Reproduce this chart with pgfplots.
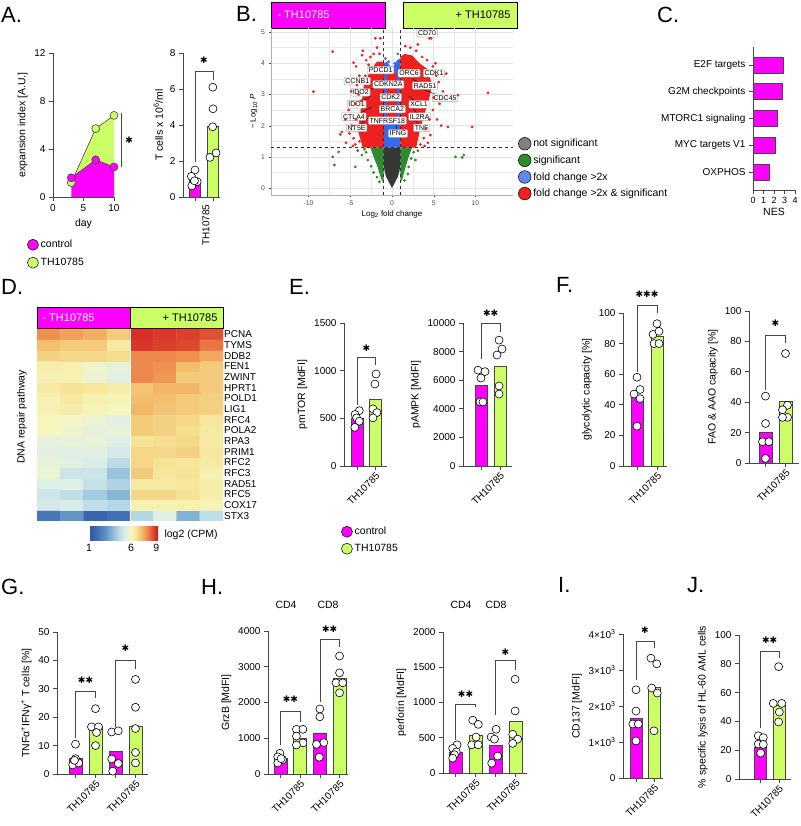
\documentclass[border=0pt]{standalone}
\usepackage{fontspec}
\setmainfont{Liberation Sans}
\newfontfamily\dejavu{DejaVu Sans}
\usepackage{pgfplots}
\pgfplotsset{compat=1.18}

\definecolor{mag}{RGB}{255,0,255}
\definecolor{limeg}{RGB}{204,255,102}
\definecolor{axg}{RGB}{70,70,70}
\definecolor{nsgrey}{RGB}{55,55,55}
\definecolor{sgreen}{RGB}{46,139,46}
\definecolor{fcblue}{RGB}{55,105,235}
\definecolor{bothred}{RGB}{238,32,32}

\newcommand{\fs}[1]{\fontsize{#1}{#1}\selectfont}
\newcommand{\stars}[1]{{\fs{9}\dejavu #1}}

\tikzset{
  sig/.style={draw=axg, line width=0.6pt},
  genel/.style={draw=gray!70, fill=white, inner sep=1.3pt, font=\fs{7}, rounded corners=0.8pt},
  conn/.style={draw=black, line width=0.4pt},
}

\pgfplotsset{
  /pgf/number format/assume math mode=true,
  /pgf/number format/set thousands separator={},
  gp/.style={
    scale only axis, clip=false,
    axis x line*=bottom, axis y line*=left,
    axis line style={-, line width=0.7pt, draw=axg},
    tick style={line width=0.7pt, draw=axg},
    tick align=outside, major tick length=4pt,
    ymin=0, scaled y ticks=false,
    tick label style={font=\fs{10}},
    label style={font=\fs{10.5}},
  },
  rot/.style={xticklabel style={rotate=45, anchor=north east, inner sep=1pt}},
  bm/.style={ybar, bar shift=0pt, bar width=12pt, fill=mag, draw=axg, line width=0.6pt},
  bg/.style={ybar, bar shift=0pt, bar width=12pt, fill=limeg, draw=axg, line width=0.6pt},
  dots/.style={only marks, mark=*, mark size=4pt, mark options={fill=white, draw=black, line width=0.6pt}},
  vred/.style={only marks, mark=*, mark size=1.2pt, color=bothred},
  vgreen/.style={only marks, mark=*, mark size=1.2pt, color=sgreen},
  vblue/.style={only marks, mark=*, mark size=1.2pt, color=fcblue},
  legax/.style={hide axis, scale only axis, width=1pt, height=1pt, xmin=0, xmax=1, ymin=0, ymax=1,
    anchor=north west, legend cell align=left,
    legend style={at={(0,1)}, anchor=north west, draw=none, fill=none, inner sep=0pt, font=\fs{10.5}}},
}

\begin{document}
\begin{tikzpicture}
\path[use as bounding box] (0,0) rectangle (800pt,826pt);

% panel letters
\foreach \t/\x/\y in {A./1/803, B./236/804, C./657/803, D./1/531, E./289/531, F./556/533, G./1/231, H./201/231, I./558/233, J./687/233}
  \node[anchor=base west, font=\fs{22}, inner sep=0pt] at (\x pt,\y pt) {\t};

% ---------------- A: expansion ----------------
\begin{axis}[gp, at={(53pt,629pt)}, anchor=south west, width=61pt, height=144pt,
  xmin=0, xmax=10, ymax=12, xtick={0,5,10}, ytick={0,4,8,12},
  xlabel={day}, ylabel={expansion index [A.U.]}]
\addplot[fill=limeg, draw=none] coordinates {(3,1.2) (7,5.7) (10,6.8) (10,2.5) (7,3.1) (3,1.6)};
\addplot[fill=mag, draw=none] coordinates {(3,0) (3,1.6) (7,3.1) (10,2.5) (10,0)};
\addplot[draw=axg, line width=0.6pt, mark=*, mark size=4pt, mark options={fill=limeg, draw=axg}] coordinates {(3,1.2) (7,5.7) (10,6.8)};
\addplot[draw=axg, line width=0.6pt, mark=*, mark size=4pt, mark options={fill=mag, draw=axg}] coordinates {(3,1.6) (7,3.1) (10,2.5)};
\draw[sig] (axis cs:11.2,2.5) -- (axis cs:11.2,7.0);
\node at (axis cs:12.5,4.75) {\stars{✱}};
\end{axis}

\begin{axis}[legax, at={(27pt,588pt)},
  legend style={row sep=5pt},
  legend image code/.code={\draw[#1, draw=black, line width=0.5pt] (5.5pt,0pt) circle (5.5pt);}]
\addlegendimage{fill=mag}\addlegendentry{control}
\addlegendimage{fill=limeg}\addlegendentry{TH10785}
\end{axis}

\begin{axis}[gp, at={(183pt,629pt)}, anchor=south west, width=37pt, height=144pt,
  xmin=0.333, xmax=2.389, ymax=8, ytick={0,2,...,8}, xtick={1,2}, xticklabels={,TH10785},
  xticklabel style={rotate=90, anchor=east, yshift=7pt},
  ylabel={T cells x 10\textsuperscript{6}/ml}]
\addplot[bm, bar width=11pt] coordinates {(1,0.95)};
\addplot[bg, bar width=11pt] coordinates {(2,3.9)};
\addplot[dots] coordinates {(1.0,1.5) (0.8,1.15) (1.12,0.85) (0.82,0.62) (0.97,0.9)};
\addplot[dots] coordinates {(1.99,6.1) (2.0,4.9) (1.98,3.9) (2.17,2.45) (1.83,2.2)};
\draw[sig] (axis cs:1,1.95) |- (axis cs:2,7.0) -- (axis cs:2,6.5);
\node at (axis cs:1.5,7.6) {\stars{✱}};
\end{axis}

% ---------------- B: volcano ----------------
\fill[mag] (271pt,798pt) rectangle (385pt,824pt);
\draw[black, line width=0.6pt] (271pt,798pt) rectangle (385pt,824pt);
\node[anchor=west, text=white, font=\fs{11}] at (274pt,811pt) {- TH10785};
\fill[limeg] (403pt,798pt) rectangle (517pt,824pt);
\draw[black, line width=0.6pt] (403pt,798pt) rectangle (517pt,824pt);
\node[anchor=east, font=\fs{11}] at (514pt,811pt) {+ TH10785};

\begin{axis}[scale only axis, at={(271pt,631pt)}, anchor=south west, width=242pt, height=167pt,
  xmin=-14.5, xmax=14.5, ymin=-0.22, ymax=5.13,
  axis x line*=bottom, axis y line*=left, axis line style={-, draw=gray!60, line width=0.4pt},
  xtick={-10,-5,0,5,10}, ytick={0,...,5}, minor x tick num=1, minor y tick num=1,
  grid=both, major grid style={draw=gray!22, line width=0.5pt}, minor grid style={draw=gray!18, line width=0.4pt},
  tick align=outside, major tick length=2.5pt, minor tick length=0pt, tick style={draw=gray!60!black},
  tick label style={font=\fs{6.8}, text=gray!60!black},
  xlabel={Log\textsubscript{2} fold change}, ylabel={− Log\textsubscript{10} \textit{P}},
  label style={font=\fs{8}}, xlabel style={yshift=2pt}, ylabel style={yshift=-3pt}]
% dense regions of the gene cloud
\addplot[fill=sgreen, draw=none] coordinates {(-1,0.16) (-1,1.3) (-2.6,1.3) (-2.2,1.0) (-1.7,0.65) (-1.3,0.3)};
\addplot[fill=sgreen, draw=none] coordinates {(1,0.16) (1,1.3) (2.4,1.3) (2.0,1.0) (1.6,0.65) (1.25,0.3)};
\addplot[fill=nsgrey, draw=none] coordinates {(0,0.0) (-0.7,0.36) (-0.9,0.55) (-1,0.8) (-1,1.3) (1,1.3) (1,0.8) (0.9,0.55) (0.7,0.36)};
\addplot[fill=fcblue, draw=none] coordinates {(-1,1.3) (-1,4.0) (-0.6,4.05) (-0.2,3.9) (0.2,3.9) (0.6,4.1) (1,4.15) (1,1.3)};
\addplot[fill=bothred, draw=none] coordinates {(-0.55,2.1) (-0.55,3.7) (0.55,3.7) (0.55,2.1)};
\addplot[fill=bothred, draw=none] coordinates {(-0.95,1.3) (-0.95,4.05) (-1.8,4.05) (-2.6,3.78) (-3.4,3.25) (-3.8,2.4) (-4.1,1.86) (-3.5,1.3)};
\addplot[fill=bothred, draw=none] coordinates {(1,1.3) (1,4.2) (1.5,4.3) (2.4,4.25) (3.3,4.0) (4.3,3.8) (4.8,3.3) (4.4,2.8) (3.8,2.3) (3.3,1.8) (2.9,1.3)};
% scattered genes
\addplot[vred] coordinates {(-9.4,3.09) (-7.1,4.37) (-2.0,4.8) (-1.4,4.8) (-3.6,4.26) (-4.6,4.02) (-4.3,3.9) (-3.9,3.6) (-3.1,4.1) (-2.6,4.2) (-2.2,4.3) (-1.5,4.3) (-4.2,3.3) (-4.0,3.0) (-4.4,2.7) (-4.3,2.2) (-4.6,1.6) (-4.4,1.4) (-4.8,2.0) (-5.1,1.75) (-3.9,1.5) (-5.5,1.45) (-6.0,1.8) (-6.2,1.72) (-5.2,2.5) (-3.7,2.8) (-3.2,3.6) (-2.8,3.95) (-4.9,3.1) (-3.5,4.4) (-1.8,4.5) (-5.6,2.2) (-4.7,1.35) (-4.1,1.2)};
\addplot[vred] coordinates {(4.5,4.8) (4.7,4.8) (5.2,4.0) (6.5,3.67) (7.9,2.98) (9.6,1.96) (6.7,1.96) (11.5,3.05) (5.6,3.4) (5.3,3.6) (4.9,3.9) (4.2,4.1) (3.6,4.2) (2.9,4.4) (2.2,4.5) (1.6,4.55) (5.0,2.9) (4.9,2.5) (4.5,2.2) (4.1,1.9) (3.8,1.6) (3.4,1.4) (4.3,1.45) (5.4,2.2) (5.7,2.7) (6.1,3.1) (3.1,4.6) (5.9,2.0) (4.6,1.7) (3.9,1.35)};
\addplot[vgreen] coordinates {(-6.4,1.16) (-7.1,1.0) (-6.9,0.74) (-4.4,0.68) (-3.6,1.06) (-3.1,1.15) (-2.9,0.9) (-2.5,0.7) (-2.2,0.5) (-1.8,0.35) (-3.3,1.25) (7.6,1.0) (8.6,1.06) (8.4,0.98) (2.8,0.9) (2.0,0.68) (2.6,1.15) (3.1,1.2) (2.3,0.95) (1.9,0.45) (1.5,0.25) (-1.5,0.2)};
\addplot[vblue] coordinates {(-0.8,4.15) (0.7,4.3) (-0.4,4.05) (0.3,4.0)};
% thresholds
\draw[dashed, gray!40!black, line width=0.4pt] (axis cs:-1,-0.22) -- (axis cs:-1,5.13);
\draw[dashed, gray!40!black, line width=0.4pt] (axis cs:1,-0.22) -- (axis cs:1,5.13);
\draw[dashed, gray!40!black, line width=0.4pt] (axis cs:-14.5,1.3) -- (axis cs:14.5,1.3);
% labelled genes
\draw[conn] (axis cs:-4.24,2.68) -- (axis cs:-2.6,2.95);
\draw[conn] (axis cs:-4.56,2.29) -- (axis cs:-2.4,2.6);
\draw[conn] (axis cs:-4.24,1.93) -- (axis cs:-2.6,2.3);
\draw[conn] (axis cs:-3.76,3.07) -- (axis cs:-2.2,3.2);
\draw[conn] (axis cs:3.56,1.93) -- (axis cs:2.0,2.4);
\draw[conn] (axis cs:3.32,2.29) -- (axis cs:2.1,2.7);
\draw[conn] (axis cs:3.24,2.68) -- (axis cs:2.0,2.95);
\draw[conn] (axis cs:6.36,2.89) -- (axis cs:3.4,3.2);
\draw[conn] (axis cs:3.96,3.28) -- (axis cs:2.4,3.5);
\draw[conn] (axis cs:0.72,1.75) -- (axis cs:0.3,2.2);
\node[genel] at (axis cs:4.2,4.96) {CD70};
\node[genel] at (axis cs:-1.36,3.78) {PDCD1};
\node[genel] at (axis cs:2.04,3.68) {ORC6};
\node[genel] at (axis cs:5.04,3.68) {CDK1};
\node[genel] at (axis cs:-4.16,3.43) {CCNB1};
\node[genel] at (axis cs:-0.44,3.32) {CDKN2A};
\node[genel] at (axis cs:3.96,3.28) {RAD51};
\node[genel] at (axis cs:-3.76,3.07) {IDO2};
\node[genel] at (axis cs:6.36,2.89) {CDC45};
\node[genel] at (axis cs:-0.16,2.91) {CDK2};
\node[genel] at (axis cs:-4.24,2.68) {IDO1};
\node[genel] at (axis cs:3.24,2.68) {XCL1};
\node[genel] at (axis cs:0.04,2.53) {BRCA2};
\node[genel] at (axis cs:-4.56,2.29) {CTLA4};
\node[genel] at (axis cs:3.32,2.29) {IL2RA};
\node[genel] at (axis cs:-0.56,2.16) {TNFRSF18};
\node[genel] at (axis cs:-4.24,1.93) {NT5E};
\node[genel] at (axis cs:3.56,1.93) {TNF};
\node[genel] at (axis cs:0.72,1.75) {IFNG};
\end{axis}

\begin{axis}[legax, at={(518pt,689pt)},
  legend style={row sep=3.5pt},
  legend image code/.code={\draw[#1, draw=black, line width=0.5pt] (6pt,0pt) circle (6.3pt);}]
\addlegendimage{fill=gray}\addlegendentry{not significant}
\addlegendimage{fill=sgreen}\addlegendentry{significant}
\addlegendimage{fill=fcblue!80}\addlegendentry{fold change >2x}
\addlegendimage{fill=bothred}\addlegendentry{fold change >2x \& significant}
\end{axis}

% ---------------- C: NES ----------------
\begin{axis}[gp, at={(753pt,636pt)}, anchor=south west, width=42pt, height=143pt,
  xmin=0, xmax=4, ymin=0.33, ymax=5.67, xtick={0,...,4}, ytick={1,...,5},
  yticklabels={OXPHOS, MYC targets V1, MTORC1 signaling, G2M checkpoints, E2F targets},
  xticklabel style={font=\fs{9}}, yticklabel style={font=\fs{10}},
  xlabel={NES}, xlabel style={yshift=3pt}]
\addplot[xbar, bar shift=0pt, bar width=16pt, fill=mag, draw=axg, line width=0.6pt]
  coordinates {(2.86,5) (2.76,4) (2.28,3) (2.10,2) (1.52,1)};
\end{axis}

% ---------------- D: heatmap ----------------
\fill[mag] (37pt,498pt) rectangle (130pt,519pt);
\draw[black, line width=0.6pt] (37pt,498pt) rectangle (130pt,519pt);
\node[anchor=west, text=white, font=\fs{11}] at (39pt,508.5pt) {- TH10785};
\fill[limeg] (130pt,498pt) rectangle (223pt,519pt);
\draw[black, line width=0.6pt] (130pt,498pt) rectangle (223pt,519pt);
\node[anchor=east, font=\fs{11}] at (221pt,508.5pt) {+ TH10785};
\node[rotate=90, font=\fs{10.5}] at (22pt,409pt) {DNA repair pathway};
\node[anchor=west, font=\fs{10.5}] at (161pt,291pt) {log2 (CPM)};

\begin{axis}[scale only axis, at={(37pt,305pt)}, anchor=south west, width=186pt, height=192pt,
  xmin=-0.5, xmax=7.5, ymin=-0.5, ymax=17.5, enlargelimits=false,
  axis line style={draw=none}, tick style={draw=none}, xtick=\empty,
  ytick={0,...,17},
  yticklabels={STX3,COX17,RFC5,RAD51,RFC3,RFC2,PRIM1,RPA3,POLA2,RFC4,LIG1,POLD1,HPRT1,ZWINT,FEN1,DDB2,TYMS,PCNA},
  yticklabel pos=right, yticklabel style={font=\fs{10}, inner xsep=1pt},
  colormap={heat}{rgb255(10)=(49,84,160) rgb255(20)=(66,112,180) rgb255(30)=(98,148,198) rgb255(40)=(152,196,220) rgb255(47)=(192,222,232) rgb255(53)=(222,239,232) rgb255(60)=(246,246,190) rgb255(66)=(246,228,150) rgb255(72)=(243,190,110) rgb255(78)=(238,145,80) rgb255(84)=(228,90,55) rgb255(90)=(210,38,35) rgb255(92)=(205,30,30)},
  point meta min=1, point meta max=9.2,
  colorbar horizontal,
  colorbar style={at={(0.2796,-0.031)}, anchor=north west, scale only axis, width=69pt, height=14pt,
    xtick={1,6,9}, xticklabel style={font=\fs{10.5}}, axis line style={draw=none}, tick style={draw=none}}]
\addplot[matrix plot*, mesh/cols=8, point meta=explicit] table[meta=v] {
x y v
0 0 2.2
1 0 3.0
2 0 1.6
3 0 2.0
4 0 4.5
5 0 5.4
6 0 3.6
7 0 4.7
0 1 5.1
1 1 5.2
2 1 4.7
3 1 4.5
4 1 6.2
5 1 6.2
6 1 6.2
7 1 6.1
0 2 5.0
1 2 4.7
2 2 4.2
3 2 3.7
4 2 6.8
5 2 6.8
6 2 6.6
7 2 6.3
0 3 5.3
1 3 5.3
2 3 4.8
3 3 4.4
4 3 6.4
5 3 6.4
6 3 6.5
7 3 6.3
0 4 5.7
1 4 4.9
2 4 4.9
3 4 4.0
4 4 7.0
5 4 6.5
6 4 6.6
7 4 6.2
0 5 5.6
1 5 5.4
2 5 5.2
3 5 4.6
4 5 6.8
5 5 6.6
6 5 6.5
7 5 6.4
0 6 5.4
1 6 5.3
2 6 5.4
3 6 5.1
4 6 6.8
5 6 6.8
6 6 6.9
7 6 6.5
0 7 5.5
1 7 5.6
2 7 5.6
3 7 5.3
4 7 6.6
5 7 6.7
6 7 6.8
7 7 6.4
0 8 6.0
1 8 5.8
2 8 5.5
3 8 5.6
4 8 7.0
5 8 6.9
6 8 6.7
7 8 6.4
0 9 6.0
1 9 5.9
2 9 5.7
3 9 5.4
4 9 7.0
5 9 6.9
6 9 6.8
7 9 6.5
0 10 6.2
1 10 6.3
2 10 6.1
3 10 6.0
4 10 7.3
5 10 7.1
6 10 7.0
7 10 6.9
0 11 6.2
1 11 6.4
2 11 6.2
3 11 6.1
4 11 7.2
5 11 7.2
6 11 7.0
7 11 6.9
0 12 6.4
1 12 6.6
2 12 6.5
3 12 6.3
4 12 7.1
5 12 7.3
6 12 7.3
7 12 7.0
0 13 6.2
1 13 6.2
2 13 5.7
3 13 5.4
4 13 7.9
5 13 7.7
6 13 7.0
7 13 7.0
0 14 6.3
1 14 6.2
2 14 5.8
3 14 5.5
4 14 7.9
5 14 7.8
6 14 7.2
7 14 7.0
0 15 6.9
1 15 6.8
2 15 6.8
3 15 6.7
4 15 7.9
5 15 7.9
6 15 7.8
7 15 7.5
0 16 7.2
1 16 7.0
2 16 7.0
3 16 6.4
4 16 8.8
5 16 8.7
6 16 8.6
7 16 8.1
0 17 7.8
1 17 7.6
2 17 7.4
3 17 7.0
4 17 8.9
5 17 8.8
6 17 8.7
7 17 8.5
};
\draw[white, line width=1pt] (axis cs:3.5,-0.5) -- (axis cs:3.5,17.5);
\end{axis}

% ---------------- E: pmTOR / pAMPK ----------------
\begin{axis}[gp, rot, at={(344pt,360pt)}, anchor=south west, width=43pt, height=143pt,
  xmin=0.25, xmax=2.64, ymax=1500, ytick={0,500,1000,1500}, xtick={1,2}, xticklabels={,TH10785},
  ylabel={pmTOR [MdFI]}]
\addplot[bm] coordinates {(1,500)};
\addplot[bg] coordinates {(2,700)};
\addplot[dots] coordinates {(1.1,580) (0.86,540) (0.95,505) (1.1,470) (0.85,405)};
\addplot[dots] coordinates {(2.03,965) (1.97,860) (1.86,600) (2.08,560) (1.86,505)};
\draw[sig] (axis cs:1,640) |- (axis cs:2,1145) -- (axis cs:2,1060);
\node at (axis cs:1.5,1240) {\stars{✱}};
\end{axis}

\begin{axis}[gp, rot, at={(463pt,360pt)}, anchor=south west, width=49pt, height=143pt,
  xmin=0, xmax=2.65, ymax=10000, ytick={0,2000,...,10000}, xtick={1,2}, xticklabels={,TH10785},
  ylabel={pAMPK [MdFI]}]
\addplot[bm] coordinates {(1,5660)};
\addplot[bg] coordinates {(2,7000)};
\addplot[dots] coordinates {(0.81,6700) (1.19,6600) (0.97,6150) (0.92,4480) (1.08,4480)};
\addplot[dots] coordinates {(1.95,8800) (2.11,8180) (1.84,7760) (1.95,5600) (1.95,5030)};
\draw[sig] (axis cs:1,7450) |- (axis cs:2,10000) -- (axis cs:2,9370);
\node at (axis cs:1.5,10700) {\stars{✱✱}};
\end{axis}

\begin{axis}[legax, at={(341pt,301pt)},
  legend style={row sep=4pt},
  legend image code/.code={\draw[#1, draw=black, line width=0.5pt] (5.5pt,0pt) circle (5.5pt);}]
\addlegendimage{fill=mag}\addlegendentry{control}
\addlegendimage{fill=limeg}\addlegendentry{TH10785}
\end{axis}

% ---------------- F: glycolytic / FAO ----------------
\begin{axis}[gp, rot, at={(623pt,360pt)}, anchor=south west, width=44pt, height=153pt,
  xmin=0.3, xmax=2.5, ymax=100, ytick={0,20,...,100}, xtick={1,2}, xticklabels={,TH10785},
  ylabel={glycolytic capacity [\%]}]
\addplot[bm] coordinates {(1,45)};
\addplot[bg] coordinates {(2,85)};
\addplot[dots] coordinates {(1.0,58) (1.15,50) (0.85,47) (1.15,44) (1.0,26)};
\addplot[dots] coordinates {(2.0,93) (1.8,86) (2.1,88) (1.85,80) (2.1,80)};
\draw[sig] (axis cs:1,61.5) |- (axis cs:2,105) -- (axis cs:2,100);
\node at (axis cs:1.5,112) {\stars{✱✱✱}};
\end{axis}

\begin{axis}[gp, rot, at={(749pt,363pt)}, anchor=south west, width=50pt, height=152pt,
  xmin=0.175, xmax=2.675, ymax=100, ytick={0,20,...,100}, xtick={1,2}, xticklabels={,TH10785},
  ylabel={FAO \& AAO capacity [\%]}]
\addplot[bm, bar width=13pt] coordinates {(1,20)};
\addplot[bg, bar width=13pt] coordinates {(2,40.5)};
\addplot[dots] coordinates {(1.0,44) (1.0,26) (0.85,14) (1.17,14) (1.0,3)};
\addplot[dots] coordinates {(2.0,72) (2.1,38) (1.85,35) (2.1,30) (1.85,30)};
\draw[sig] (axis cs:1,48) |- (axis cs:2,84) -- (axis cs:2,79);
\node at (axis cs:1.5,92) {\stars{✱}};
\end{axis}

% ---------------- G: TNFa/IFNg ----------------
\begin{axis}[gp, rot, at={(57pt,52pt)}, anchor=south west, width=91pt, height=142pt,
  xmin=0.075, xmax=4.625, ymax=50, ytick={0,10,...,50}, xtick={1,2,3,4}, xticklabels={,TH10785,,TH10785},
  ylabel={TNFα\textsuperscript{+}IFNγ\textsuperscript{+} T cells [\%]}]
\addplot[bm, bar width=13pt] coordinates {(1,5.6) (3,8.0)};
\addplot[bg, bar width=13pt] coordinates {(2,16.5) (4,16.9)};
\addplot[dots] coordinates {(1.0,10.5) (1.0,5.4) (0.86,3.2) (1.16,3.9) (0.95,4.8)};
\addplot[dots] coordinates {(2.0,23) (1.8,16.6) (2.15,16.6) (2.05,14.6) (2.0,10)};
\addplot[dots] coordinates {(2.81,14.8) (3.14,15.2) (2.81,5.3) (3.14,3.7) (2.86,1.0)};
\addplot[dots] coordinates {(4.0,33.3) (4.0,23.5) (4.0,16) (4.0,7.6) (4.0,3.9)};
\draw[sig] (axis cs:1,12.7) |- (axis cs:2,29.2) -- (axis cs:2,26.7);
\node at (axis cs:1.5,33) {\stars{✱✱}};
\draw[sig] (axis cs:3,16.5) |- (axis cs:4,40) -- (axis cs:4,37);
\node at (axis cs:3.5,44.4) {\stars{✱}};
\end{axis}

% ---------------- H: GrzB / perforin ----------------
\node[font=\fs{10.5}] at (286pt,221pt) {CD4};
\node[font=\fs{10.5}] at (328pt,221pt) {CD8};
\node[font=\fs{10.5}] at (461pt,221pt) {CD4};
\node[font=\fs{10.5}] at (496pt,221pt) {CD8};

\begin{axis}[gp, rot, at={(268pt,52pt)}, anchor=south west, width=80pt, height=143pt,
  xmin=0.365, xmax=4.43, ymax=4000, ytick={0,1000,...,4000}, xtick={1,2,3,4}, xticklabels={,TH10785,,TH10785},
  ylabel={GrzB [MdFI]}]
\addplot[bm, bar width=13pt] coordinates {(1,440) (3,1150)};
\addplot[bg, bar width=13pt] coordinates {(2,1000) (4,2680)};
\addplot[dots] coordinates {(0.97,580) (0.86,480) (1.11,400) (0.86,310) (1.03,430)};
\addplot[dots] coordinates {(1.81,1250) (2.14,1250) (1.81,1060) (2.14,870) (1.81,810)};
\addplot[dots] coordinates {(3.0,1820) (3.0,1600) (3.2,880) (2.83,830) (2.97,470)};
\addplot[dots] coordinates {(4.0,3300) (4.0,2830) (3.82,2550) (4.16,2550) (4.0,2270)};
\draw[sig] (axis cs:1,810) |- (axis cs:2,1740) -- (axis cs:2,1450);
\node at (axis cs:1.5,2080) {\stars{✱✱}};
\draw[sig] (axis cs:3,2015) |- (axis cs:4,3780) -- (axis cs:4,3550);
\node at (axis cs:3.5,4050) {\stars{✱✱}};
\end{axis}

\begin{axis}[gp, rot, at={(443pt,53pt)}, anchor=south west, width=84pt, height=141pt,
  xmin=0.375, xmax=4.575, ymax=2000, ytick={0,500,...,2000}, xtick={1,2,3,4}, xticklabels={,TH10785,,TH10785},
  ylabel={perforin [MdFI]}]
\addplot[bm, bar width=13pt] coordinates {(1,300) (3,390)};
\addplot[bg, bar width=13pt] coordinates {(2,540) (4,730)};
\addplot[dots] coordinates {(1.08,400) (0.86,350) (1.04,300) (0.95,260) (0.86,210)};
\addplot[dots] coordinates {(1.86,750) (2.14,690) (2.03,510) (1.81,400) (2.14,400)};
\addplot[dots] coordinates {(3.03,620) (2.78,510) (3.11,240) (2.81,140) (2.95,480)};
\addplot[dots] coordinates {(3.98,1330) (3.98,880) (3.86,550) (4.11,480) (3.86,420)};
\draw[sig] (axis cs:1,470) |- (axis cs:2,980) -- (axis cs:2,930);
\node at (axis cs:1.5,1120) {\stars{✱✱}};
\draw[sig] (axis cs:3,820) |- (axis cs:4,1600) -- (axis cs:4,1460);
\node at (axis cs:3.5,1716) {\stars{✱}};
\end{axis}

% ---------------- I: CD137 ----------------
\begin{axis}[gp, rot, at={(623pt,48pt)}, anchor=south west, width=40pt, height=144pt,
  xmin=0.278, xmax=2.5, ymax=4000, ytick={0,1000,...,4000},
  yticklabels={0,1×10\textsuperscript{3},2×10\textsuperscript{3},3×10\textsuperscript{3},4×10\textsuperscript{3}},
  xtick={1,2}, xticklabels={,TH10785},
  ylabel={CD137 [MdFI]}]
\addplot[bm] coordinates {(1,1670)};
\addplot[bg] coordinates {(2,2530)};
\addplot[dots] coordinates {(1.0,2450) (1.0,1860) (0.82,1500) (1.13,1500) (1.0,1030)};
\addplot[dots] coordinates {(1.83,3330) (2.15,3170) (1.87,2500) (2.18,2360) (2.0,1310)};
\draw[sig] (axis cs:1,2720) |- (axis cs:2,3810) -- (axis cs:2,3610);
\node at (axis cs:1.5,4110) {\stars{✱}};
\end{axis}

% ---------------- J: lysis ----------------
\begin{axis}[gp, rot, at={(739pt,47pt)}, anchor=south west, width=52pt, height=144pt,
  xmin=-0.162, xmax=2.65, ymax=100, ytick={0,20,...,100}, xtick={1,2}, xticklabels={,TH10785},
  ylabel={\% specific lysis of HL-60 AML cells}]
\addplot[bm] coordinates {(1,22)};
\addplot[bg] coordinates {(2,51.5)};
\addplot[dots] coordinates {(0.88,30) (1.15,28.7) (0.88,24.3) (1.15,24) (1.01,18)};
\addplot[dots] coordinates {(1.98,78) (1.69,52.5) (2.15,52.5) (2.02,46.5) (1.98,39.6)};
\draw[sig] (axis cs:1,35.6) |- (axis cs:2,89) -- (axis cs:2,84);
\node at (axis cs:1.5,96.5) {\stars{✱✱}};
\end{axis}

\end{tikzpicture}
\end{document}
